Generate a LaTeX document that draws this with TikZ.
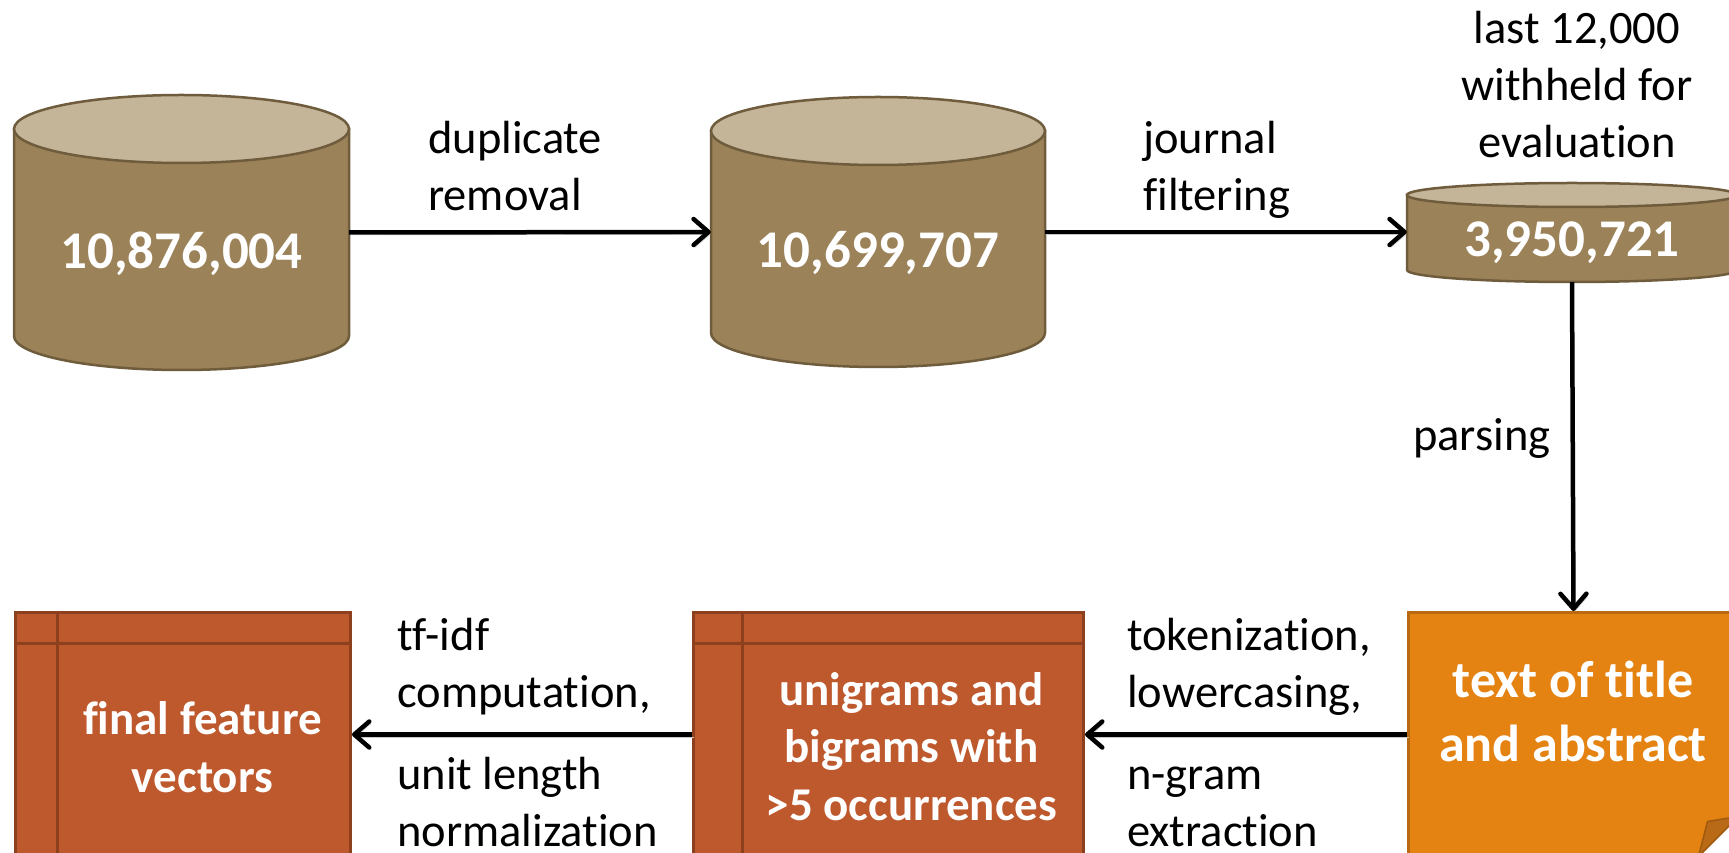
\documentclass[tikz,border=0pt]{standalone}
\usepackage{fontspec}
\setmainfont{Carlito}[Ligatures={NoCommon,NoRequired,NoContextual}, RawFeature={-liga;-clig;-calt;-dlig}]
\usetikzlibrary{arrows.meta}

\definecolor{drumside}{HTML}{9C8258}
\definecolor{drumcap}{HTML}{C4B498}
\definecolor{drumedge}{HTML}{6E5C3C}
\definecolor{storefill}{HTML}{BE582D}
\definecolor{storeedge}{HTML}{8C401E}
\definecolor{notefill}{HTML}{E48212}
\definecolor{noteedge}{HTML}{B9690F}
\definecolor{notefold}{HTML}{B96A16}
\definecolor{notefoldedge}{HTML}{A05A10}

\newcommand\lblfont{\fontsize{46.5}{57}\selectfont}
\newcommand\boxfont{\bfseries\fontsize{47}{57.5}\selectfont}
\newcommand\notefont{\bfseries\fontsize{52}{64}\selectfont}
\newcommand\numfont{\bfseries\fontsize{53}{64}\selectfont}
% strut with height only, for a last line close to the lower edge
\newcommand\hstrut{\rule{0pt}{.7\baselineskip}}

% database drum: name, centre x, y of cap centre, y of base centre, half width, cap radius, label
\newcommand\drum[7]{%
  \filldraw[draw=drumedge, line width=2.5pt, fill=drumside]
    ({#2-#5},#3) -- ({#2-#5},#4)
    arc[start angle=180, end angle=360, x radius=#5pt, y radius=#6pt]
    -- ({#2+#5},#3) -- cycle;
  \filldraw[draw=drumedge, line width=2.5pt, fill=drumcap]
    (#2,#3) ellipse[x radius=#5pt, y radius=#6pt];
  \node[drumlabel, minimum width={2*#5*1pt}, minimum height={(#3-#4+#6-8)*1pt}]
    (#1) at (#2,{(#3+#4)/2-#6/2-4}) {#7};
}

\begin{document}
\begin{tikzpicture}[x=1pt, y=1pt,
  drumlabel/.style={text=white, font=\numfont, inner sep=0pt},
  lbl/.style={anchor=north west, align=left, inner sep=0pt, font=\lblfont},
  boxtext/.style={text=white, align=center, inner sep=0pt, font=\boxfont},
  storage/.style={draw=storeedge, fill=storefill, line width=3pt, inner sep=0pt,
    anchor=north west, minimum height=244pt,
    path picture={
      \draw[storeedge, line width=3pt]
        ([xshift=#1]path picture bounding box.north west) --
        ([xshift=#1]path picture bounding box.south west);
      \draw[storeedge, line width=3pt]
        ([yshift=-31pt]path picture bounding box.north west) --
        ([yshift=-31pt]path picture bounding box.north east);
    }},
  notebox/.style={draw=noteedge, fill=notefill, line width=3pt, inner sep=0pt,
    anchor=north west, minimum height=244pt,
    path picture={
      \fill[white]
        ([xshift=-40pt]path picture bounding box.south east) --
        (path picture bounding box.south east) --
        ([yshift=40pt]path picture bounding box.south east) -- cycle;
      \filldraw[fill=notefold, draw=notefoldedge, line width=1.5pt, line join=round]
        ([xshift=-40pt]path picture bounding box.south east) --
        ([xshift=-31pt,yshift=35pt]path picture bounding box.south east) --
        ([yshift=40pt]path picture bounding box.south east) -- cycle;
    }},
  flow/.style={line width=4.5pt,
    -{Straight Barb[length=15pt, width=26pt, round]},
    preaction={draw=black!22, transform canvas={shift={(1.5pt,-2.5pt)}}}}
]
\useasboundingbox (0,0) rectangle (1729,852);
\clip (0,0) rectangle (1729,852);
\fill[white] (0,0) rectangle (1729,852);

% record stores
\drum{c1}{181.5}{723}{516}{167.5}{34}{10,876,004}
\drum{c2}{878}{721}{519}{167}{34}{10,699,707}
\drum{c3}{1572}{657}{582}{165}{12}{3,950,721}

% processing stages
\node[notebox, minimum width=330pt] (note) at (1407,241) {};
\node[storage=49pt, minimum width=390pt] (grams) at (692,241) {};
\node[storage=42pt, minimum width=335pt] (vec) at (14,241) {};

\node[boxtext, font=\notefont] (note-t) at (1573,135) {\strut text of title\\\strut and abstract};
\node[boxtext] (grams-t) at (911.5,101) {\strut unigrams and\\\strut bigrams with\\\strut >5 occurrences};
\node[boxtext] (vec-t) at (202.5,100) {\strut final feature\\\strut vectors};

% step labels
\node[lbl] (dup) at (428,738.9) {\strut duplicate\\\strut removal};
\node[lbl] (jrn) at (1143,738.9) {\strut journal\\\strut filtering};
\node[lbl, anchor=north, align=center] (held) at (1577,848.9) {\strut last 12,000\\\strut withheld for\\\strut evaluation};
\node[lbl] (parse) at (1413,441.9) {\strut parsing};
\node[lbl] (tok-a) at (1127,241.9) {\strut tokenization,\\\strut lowercasing,};
\node[lbl] (tok-b) at (1127,102.9) {\strut n-gram\\\hstrut extraction};
\node[lbl] (tf-a) at (397,241.9) {\strut tf-idf\\\strut computation,};
\node[lbl] (tf-b) at (397,102.9) {\strut unit length\\\hstrut normalization};

% flow
\draw[flow] ([yshift=21pt]c1.east) -- ([yshift=21pt]c2.west);
\draw[flow] ([yshift=21pt]c2.east) -- ([yshift=21pt]c2.east -| c3.west);
\draw[flow] (c3.south) -- (note.north);
\draw[flow] (note.west) -- (grams.east);
\draw[flow] (grams.west) -- (vec.east);
\end{tikzpicture}
\end{document}
